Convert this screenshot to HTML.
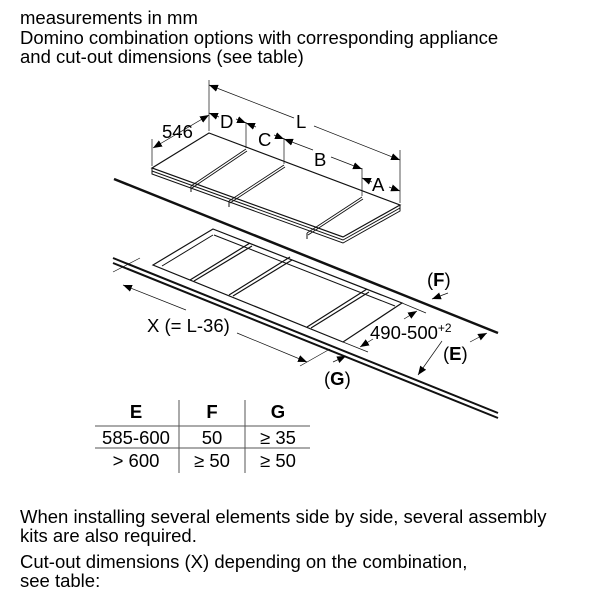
<!DOCTYPE html>
<html><head><style>
body{margin:0;background:#fff;}
svg{display:block;font-family:"Liberation Sans",Arial,sans-serif;}
</style></head><body>
<svg width="600" height="600" viewBox="0 0 600 600" xmlns="http://www.w3.org/2000/svg">
<defs>
<marker id="a" viewBox="0 0 10 10" refX="10" refY="5" markerWidth="9" markerHeight="9" markerUnits="userSpaceOnUse" orient="auto-start-reverse"><path d="M0,1 L10,5 L0,9z" fill="#000"/></marker>
</defs>
<g font-size="18.5" fill="#000">
<text x="20" y="24">measurements in mm</text>
<text x="20" y="44">Domino combination options with corresponding appliance</text>
<text x="20" y="63">and cut-out dimensions (see table)</text>
<text x="20" y="523">When installing several elements side by side, several assembly</text>
<text x="20" y="542">kits are also required.</text>
<text x="20" y="568">Cut-out dimensions (X) depending on the combination,</text>
<text x="20" y="587">see table:</text>
</g>
<g stroke="#111" fill="none" stroke-width="1">
<!-- hob -->
<polygon points="209,133 400,205 343,237 152,168" fill="#fff" stroke-width="1.2"/>
<path d="M152,168 L152,174 L343,243 L400,211 L400,205"/>
<path d="M152,171 L343,240 L400,208"/>
<path d="M246,149 L191,186 M247,151 L192,188 M284,165 L229,201 M285,167 L230,203 M362,197 L307,233 M363,199 L308,235" stroke-width="0.9"/>
<path d="M191,186 L191,192 M229,201 L229,207 M307,233 L307,239"/>
<!-- counter lines -->
<path d="M114,179 L498,333" stroke-width="2.5"/>
<path d="M113,258 L498,413" stroke-width="2"/>
<path d="M113,263 L498,418" stroke-width="2"/>
<!-- cutout -->
<polygon points="213,229 402,303 343,342 153,265" stroke-width="1.2"/>
<path d="M214,235 L395,306 M213,235 L162,266"/>
<path d="M250,243 L190,280 M252,246 L194,281 M290,257 L229,295 M292,260 L233,296 M367,289 L307,327 M369,292 L311,328" stroke-width="1.2"/>
<!-- ext lines -->
<path d="M152,139 L152,166 M209,80 L209,131 M246,122 L246,148 M284,138 L284,164 M362,168 L362,196 M400,150 L400,203" stroke-width="0.7"/>
<path d="M209,85 L294,118 M314,126 L400,160" stroke-width="0.7" marker-start="url(#a)" marker-end="url(#a)"/>
<path d="M153,148 L209,115" stroke-width="0.7" marker-start="url(#a)" marker-end="url(#a)"/>
<path d="M209,113 L219,117" stroke-width="0.7" marker-start="url(#a)"/>
<path d="M236,119 L246,123" stroke-width="0.7" marker-end="url(#a)"/>
<path d="M246,123 L256,127" stroke-width="0.7" marker-start="url(#a)"/>
<path d="M274,135 L284,139" stroke-width="0.7" marker-end="url(#a)"/>
<path d="M284,139 L313,150 M331,157 L362,169" stroke-width="0.7" marker-start="url(#a)" marker-end="url(#a)"/>
<path d="M362,178 L372,182" stroke-width="0.7" marker-start="url(#a)"/>
<path d="M389,187 L400,191" stroke-width="0.7" marker-end="url(#a)"/>
<!-- X dim -->
<path d="M113,272 L140,258 M300,366 L330,349" stroke-width="0.7"/>
<path d="M123,285 L186,310 M237,333 L307,362" stroke-width="0.7" marker-start="url(#a)" marker-end="url(#a)"/>
<!-- 490 dim -->
<path d="M402,303 L426,313 M343,342 L368,352" stroke-width="0.7"/>
<path d="M360,347 L373,339" stroke-width="0.7" marker-start="url(#a)"/>
<path d="M404,319 L417,311" stroke-width="0.7" marker-end="url(#a)"/>
<!-- F -->
<path d="M448,293 L432,299" stroke-width="0.7" marker-end="url(#a)"/>
<!-- E -->
<path d="M442,341 L418,375" stroke-width="0.7" marker-end="url(#a)"/>
<path d="M470,342 L487,333" stroke-width="0.7" marker-end="url(#a)"/>
<!-- G -->
<path d="M333,362 L346,356" stroke-width="0.7" marker-end="url(#a)"/>
<!-- table -->
<path d="M95,426 L310,426 M95,448 L310,448 M179,400 L179,473 M245,400 L245,473" stroke="#555"/>
</g>
<g font-size="18.5" fill="#000">
<text x="162" y="138">546</text>
<text x="220" y="128">D</text>
<text x="258" y="146">C</text>
<text x="314" y="166">B</text>
<text x="372" y="191">A</text>
<text x="296" y="128">L</text>
<text x="147" y="332">X (= L-36)</text>
<text x="370" y="339">490-500<tspan font-size="12" dy="-7">+2</tspan></text>
<text x="427" y="286">(<tspan font-weight="bold">F</tspan>)</text>
<text x="443" y="360">(<tspan font-weight="bold">E</tspan>)</text>
<text x="324" y="385">(<tspan font-weight="bold">G</tspan>)</text>
</g>
<g font-size="18.5" text-anchor="middle">
<text x="136" y="418" font-weight="bold">E</text>
<text x="212" y="418" font-weight="bold">F</text>
<text x="278" y="418" font-weight="bold">G</text>
<text x="136" y="444">585-600</text>
<text x="212" y="444">50</text>
<text x="278" y="444">≥ 35</text>
<text x="136" y="467">&gt; 600</text>
<text x="212" y="467">≥ 50</text>
<text x="278" y="467">≥ 50</text>
</g>
</svg>
</body></html>
